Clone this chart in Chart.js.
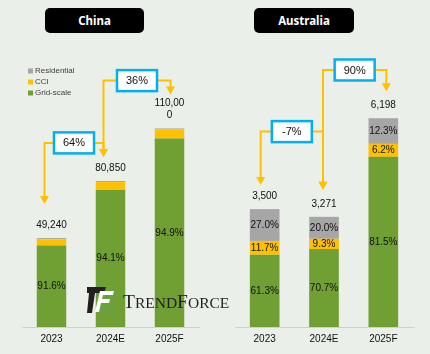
<!DOCTYPE html>
<html>
<head>
<meta charset="utf-8">
<script src="https://cdn.jsdelivr.net/npm/chart.js@4.4.0/dist/chart.umd.min.js"></script>
<style>
    body { margin: 0; background: #ebefe9; }
    #wrap { position: relative; width: 430px; height: 354px; overflow: hidden; }
    .panel { position: absolute; top: 0; width: 215px; height: 354px; }
    .title { position: absolute; top: 8px; height: 25px; background: #000; color: #fff; border-radius: 5px;
             font: bold 11.5px "Noto Sans", sans-serif; display: flex; align-items: center; justify-content: center; }
    #logo { position: absolute; left: 0; top: 0; pointer-events: none; }
</style>
</head>
<body>
<div id="wrap">
    <div class="panel" style="left:0"><canvas id="chinaChart" width="215" height="354"></canvas></div>
    <div class="panel" style="left:215px"><canvas id="ausChart" width="215" height="354"></canvas></div>
    <div class="title" style="left:45px;width:99px">China</div>
    <div class="title" style="left:254px;width:100px">Australia</div>
    <canvas id="logo" width="430" height="354"></canvas>
</div>
<script>
// categories and series
const categories = ['2023', '2024E', '2025F'];
const seriesNames = ['Grid-scale', 'CCI', 'Residential'];
const seriesColors = ['#70a033', '#ffc000', '#a6a6a6'];

// China (share of total, %)
const chinaTotals = [49240, 80850, 110000];
const chinaTotalLabels = ['49,240', '80,850', ['110,00', '0']];
const chinaGrid = [91.6, 94.1, 94.9];
const chinaCCI = [7.1, 5.2, 4.6];
const chinaResidential = [1.3, 0.7, 0.5];
const chinaGrowth = ['64%', '36%'];

// Australia (share of total, %)
const ausTotals = [3500, 3271, 6198];
const ausTotalLabels = ['3,500', '3,271', '6,198'];
const ausGrid = [61.3, 70.7, 81.5];
const ausCCI = [11.7, 9.3, 6.2];
const ausResidential = [27.0, 20.0, 12.3];
const ausGrowth = ['-7%', '90%'];

const FONT = '"Liberation Sans", Arial, sans-serif';

function makeDatasets(totals, shares, showPct) {
    return shares.map(function (arr, i) {
        return {
            label: seriesNames[i],
            data: arr.map(function (p, j) { return totals[j] * p / 100; }),
            pct: arr,
            showPct: showPct[i],
            backgroundColor: seriesColors[i],
            borderWidth: 0,
            barPercentage: 0.5,
            categoryPercentage: 1
        };
    });
}

// percentage labels, totals, growth brackets
const annotate = {
    id: 'annotate',
    afterDatasetsDraw(chart, args, opts) {
        const ctx = chart.ctx;
        ctx.save();
        ctx.textAlign = 'center';
        ctx.textBaseline = 'middle';
        ctx.font = '10px ' + FONT;
        ctx.fillStyle = '#111';
        chart.data.datasets.forEach(function (ds, i) {
            if (!ds.showPct) return;
            chart.getDatasetMeta(i).data.forEach(function (bar, j) {
                ctx.fillText(ds.pct[j].toFixed(1) + '%', bar.x, (bar.y + bar.base) / 2);
            });
        });

        // totals above bars
        const topMeta = chart.getDatasetMeta(chart.data.datasets.length - 1);
        const labelTop = [];
        topMeta.data.forEach(function (bar, j) {
            let lines = opts.totals[j];
            if (!Array.isArray(lines)) lines = [lines];
            const n = lines.length;
            lines.forEach(function (t, k) {
                ctx.fillText(t, bar.x, bar.y - 13 - (n - 1 - k) * 12);
            });
            labelTop[j] = bar.y - 19 - (n - 1) * 12;
        });

        // growth brackets
        const y = chart.scales.y;
        opts.brackets.forEach(function (b) {
            const x1 = topMeta.data[b.from].x + b.dx[0];
            const x2 = topMeta.data[b.to].x + b.dx[1];
            const ly = y.getPixelForValue(b.level);
            const cx = (x1 + x2) / 2;
            const bw = 40, bh = 21;
            ctx.strokeStyle = '#ffc000';
            ctx.fillStyle = '#ffc000';
            ctx.lineWidth = 2;
            [[x1, labelTop[b.from] - b.gap[0]], [x2, labelTop[b.to] - b.gap[1]]].forEach(function (e) {
                ctx.beginPath();
                ctx.moveTo(cx, ly);
                ctx.lineTo(e[0], ly);
                ctx.lineTo(e[0], e[1] - 7);
                ctx.stroke();
                ctx.beginPath();
                ctx.moveTo(e[0] - 4.5, e[1] - 8);
                ctx.lineTo(e[0] + 4.5, e[1] - 8);
                ctx.lineTo(e[0], e[1]);
                ctx.closePath();
                ctx.fill();
            });
            ctx.fillStyle = '#fff';
            ctx.fillRect(cx - bw / 2, ly - bh / 2, bw, bh);
            ctx.strokeStyle = '#00b0f0';
            ctx.lineWidth = 2.5;
            ctx.strokeRect(cx - bw / 2, ly - bh / 2, bw, bh);
            ctx.fillStyle = '#111';
            ctx.font = '11px ' + FONT;
            ctx.fillText(b.label, cx, ly + 0.5);
        });

        // small legend
        if (opts.legend) {
            ctx.font = '8px ' + FONT;
            ctx.textAlign = 'left';
            const items = chart.data.datasets.slice().reverse();
            items.forEach(function (ds, k) {
                const ty = opts.legend.y + k * 11;
                ctx.fillStyle = ds.backgroundColor;
                ctx.fillRect(opts.legend.x, ty - 2.5, 5, 5);
                ctx.fillStyle = '#404040';
                ctx.fillText(ds.label, opts.legend.x + 7, ty);
            });
        }
        ctx.restore();
    }
};

function makeChart(id, datasets, max, pad, opts) {
    return new Chart(document.getElementById(id), {
        type: 'bar',
        data: { labels: categories, datasets: datasets },
        options: {
            responsive: false,
            animation: false,
            layout: { padding: pad },
            plugins: { legend: { display: false }, tooltip: { enabled: false }, annotate: opts },
            scales: {
                x: {
                    stacked: true,
                    grid: { display: false, drawTicks: false },
                    border: { color: '#d0d0d0', width: 1 },
                    ticks: { color: '#111', font: { family: FONT, size: 10 }, padding: 6 }
                },
                y: { stacked: true, display: false, min: 0, max: max }
            }
        },
        plugins: [annotate]
    });
}

makeChart('chinaChart',
    makeDatasets(chinaTotals, [chinaGrid, chinaCCI, chinaResidential], [true, false, false]),
    159000, { top: 40, left: 22, right: 16, bottom: 3 },
    {
        totals: chinaTotalLabels,
        legend: { x: 28, y: 71 },
        brackets: [
            { from: 0, to: 1, label: chinaGrowth[0], level: 102000, dx: [-7, -7], gap: [15, 5] },
            { from: 1, to: 2, label: chinaGrowth[1], level: 136500, dx: [-7, 1], gap: [5, 3] }
        ]
    });

makeChart('ausChart',
    makeDatasets(ausTotals, [ausGrid, ausCCI, ausResidential], [true, true, true]),
    8520, { top: 40, left: 20, right: 17, bottom: 3 },
    {
        totals: ausTotalLabels,
        brackets: [
            { from: 0, to: 1, label: ausGrowth[0], level: 5800, dx: [-4, -1], gap: [5, 8] },
            { from: 1, to: 2, label: ausGrowth[1], level: 7630, dx: [-1, 3], gap: [8, 8] }
        ]
    });

// TrendForce watermark
(function () {
    const c = document.getElementById('logo').getContext('2d');
    c.fillStyle = '#6aa13a';
    c.fillRect(96, 287, 19, 26);
    c.fillStyle = '#231f20';
    c.beginPath();
    c.moveTo(87, 287); c.lineTo(106, 287); c.lineTo(104, 293); c.lineTo(95, 293);
    c.lineTo(92, 313); c.lineTo(87, 313); c.lineTo(89, 293); c.lineTo(87, 293);
    c.closePath(); c.fill();
    c.fillStyle = '#fff';
    c.beginPath();
    c.moveTo(100, 291); c.lineTo(114, 291); c.lineTo(113, 295); c.lineTo(103, 295);
    c.lineTo(102, 299); c.lineTo(110, 299); c.lineTo(109, 303); c.lineTo(101, 303);
    c.lineTo(99, 312); c.lineTo(95, 312);
    c.closePath(); c.fill();
    c.fillStyle = '#231f20';
    c.textBaseline = 'alphabetic';
    let x = 123;
    [['T', 19.5], ['REND', 15.5], ['F', 19.5], ['ORCE', 15.5]].forEach(function (p) {
        c.font = p[1] + 'px "Liberation Serif", serif';
        c.fillText(p[0], x, 308);
        x += c.measureText(p[0]).width;
    });
})();
</script>
</body>
</html>
